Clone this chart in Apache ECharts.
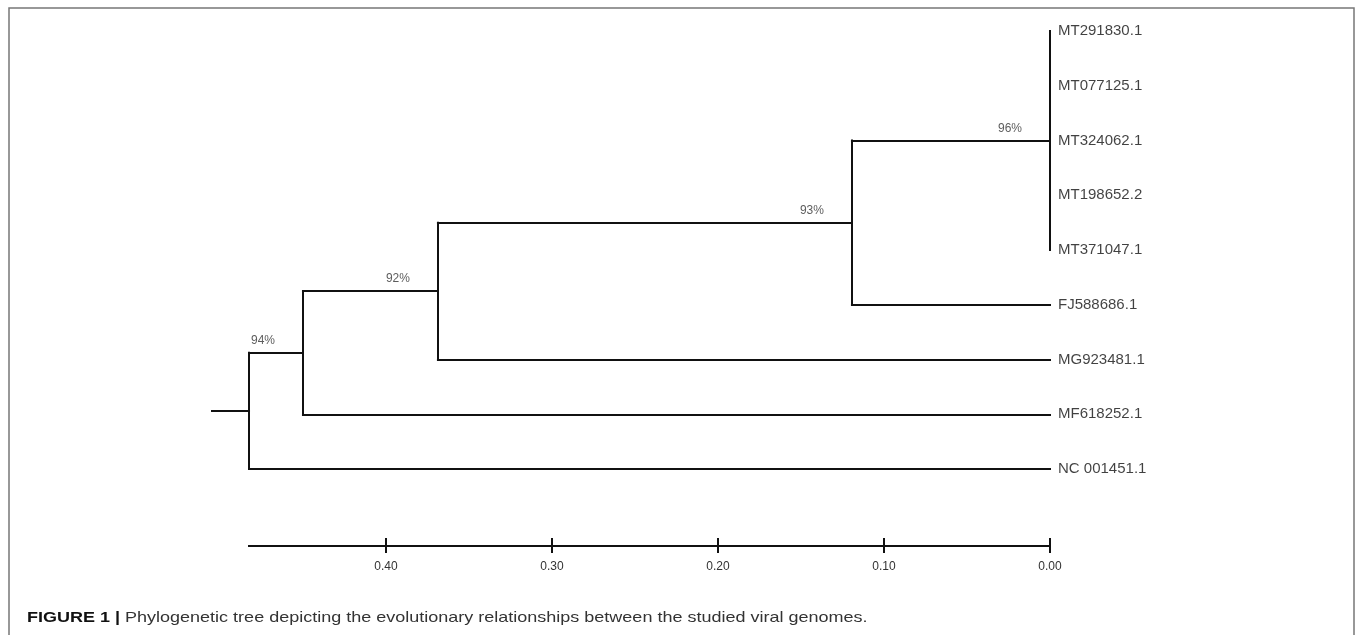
<!DOCTYPE html>
<html>
<head>
<meta charset="utf-8">
<script src="https://cdn.jsdelivr.net/npm/echarts@6/dist/echarts.min.js"></script>
<style>
  html, body { margin: 0; padding: 0; background: #fff; }
  #chart { width: 1355px; height: 635px; }
</style>
</head>
<body>
<div id="chart"></div>
<script>
// tips, top to bottom
const leafNames = ['MT291830.1', 'MT077125.1', 'MT324062.1', 'MT198652.2', 'MT371047.1',
  'FJ588686.1', 'MG923481.1', 'MF618252.1', 'NC 001451.1']
const leafAge = [0, 0, 0, 0, 0, 0, 0, 0, 0]

// internal nodes, children first; the last one is the root
const nodeAge = [0.0, 0.1193, 0.3687, 0.4500, 0.4825]
const nodeChildren = [
  ['L0', 'L1', 'L2', 'L3', 'L4'],
  ['N0', 'L5'],
  ['N1', 'L6'],
  ['N2', 'L7'],
  ['N3', 'L8']
]
const nodeSupport = ['96%', '93%', '92%', '94%', '']
const rootStubAge = 0.5048

// scale bar
const scaleTicks = [0.0, 0.1, 0.2, 0.3, 0.4]
const scaleEnd = 0.4825

const yBottom = 9.406 // where the scale bar sits, in tip rows

const nodeY = []
function pos(id) {
  const i = +id.slice(1)
  return id[0] === 'L' ? [leafAge[i], i] : [nodeAge[i], nodeY[i]]
}
nodeChildren.forEach((ch, i) => {
  const ys = ch.map(c => pos(c)[1])
  nodeY[i] = (Math.min(...ys) + Math.max(...ys)) / 2
})

const segs = []
nodeChildren.forEach((ch, i) => {
  const ys = ch.map(c => pos(c)[1])
  segs.push({coords: [[nodeAge[i], Math.min(...ys)], [nodeAge[i], Math.max(...ys)]]})
  ch.forEach(c => {
    const p = pos(c)
    if (p[0] !== nodeAge[i]) segs.push({coords: [[nodeAge[i], p[1]], p]})
  })
})
const root = nodeAge.length - 1
segs.push({coords: [[rootStubAge, nodeY[root]], [nodeAge[root], nodeY[root]]]})
segs.push({coords: [[scaleEnd, yBottom], [0, yBottom]]})

const supportPts = []
nodeSupport.forEach((s, i) => {
  if (s) supportPts.push({value: [nodeAge[i], nodeY[i]], name: s})
})

const chart = echarts.init(document.getElementById('chart'))
const font = 'Liberation Sans, Arial'
const xBase = {
  type: 'value', min: 0, max: rootStubAge, inverse: true,
  splitLine: {show: false}, axisLine: {show: false}
}
chart.setOption({
  animation: false,
  backgroundColor: '#fff',
  grid: {left: 212, right: 305, top: 31, bottom: 89},
  xAxis: [
    Object.assign({}, xBase, {show: false}),
    Object.assign({}, xBase, {
      position: 'bottom',
      axisTick: {customValues: scaleTicks, length: 7, lineStyle: {color: '#111', width: 2}},
      axisLabel: {
        customValues: scaleTicks, margin: 15, color: '#333', fontSize: 12,
        fontFamily: font, formatter: v => v.toFixed(2)
      }
    }),
    Object.assign({}, xBase, {
      position: 'bottom',
      axisTick: {customValues: scaleTicks, inside: true, length: 8, lineStyle: {color: '#111', width: 2}},
      axisLabel: {show: false}
    })
  ],
  yAxis: {type: 'value', min: 0, max: yBottom, inverse: true, show: false},
  series: [
    {
      type: 'lines',
      coordinateSystem: 'cartesian2d',
      silent: true,
      lineStyle: {color: '#111', width: 2, opacity: 1, cap: 'square'},
      data: segs
    },
    {
      type: 'scatter',
      symbolSize: 0,
      silent: true,
      data: leafNames.map((n, i) => ({value: [leafAge[i], i], name: n})),
      label: {
        show: true, position: 'right', distance: 8, formatter: '{b}',
        color: '#111', fontSize: 15, fontFamily: font
      }
    },
    {
      type: 'scatter',
      symbolSize: 0,
      silent: true,
      data: supportPts,
      label: {
        show: true, position: [-28, -6], align: 'right', verticalAlign: 'bottom',
        formatter: '{b}', color: '#333', fontSize: 12, fontFamily: font
      }
    }
  ],
  graphic: [
    {
      type: 'polyline',
      silent: true,
      shape: {points: [[9, 640], [9, 8], [1354, 8], [1354, 640]]},
      style: {stroke: '#777', lineWidth: 1.5, fill: null}
    },
    {
      type: 'text',
      x: 27,
      y: 610,
      scaleX: 1.2,
      silent: true,
      style: {
        text: '{b|FIGURE 1 |} Phylogenetic tree depicting the evolutionary relationships between the studied viral genomes.',
        fontSize: 15,
        fontFamily: font,
        fill: '#333',
        rich: {b: {fontWeight: 'bold', fontSize: 15, fontFamily: font, fill: '#111'}}
      }
    }
  ]
})
</script>
</body>
</html>
